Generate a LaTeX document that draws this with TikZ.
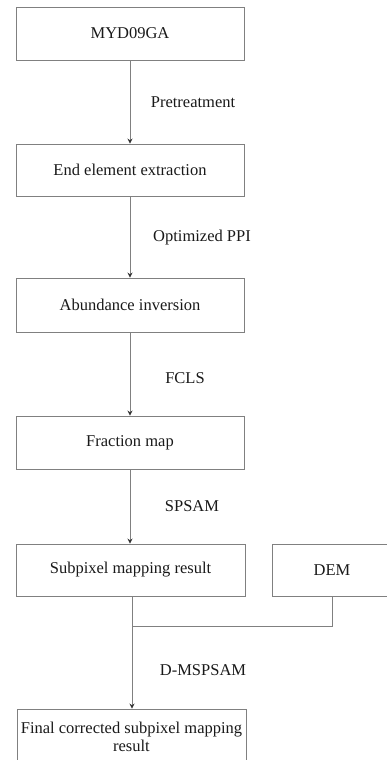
\documentclass[tikz,border=0pt]{standalone}
\usepackage{fontspec}
\setmainfont{Liberation Serif}
\usetikzlibrary{arrows.meta}
\begin{document}
\begin{tikzpicture}[x=1pt,y=-1pt,
  every node/.style={font=\fontsize{16.5}{19}\selectfont, text=black!90},
  box/.style={draw=black!50, line width=0.9pt, rectangle, inner sep=0pt, minimum width=228pt},
  lbl/.style={inner sep=0pt},
  conn/.style={draw=black!50, line width=0.9pt},
  arr/.style={conn, -{Stealth[length=5pt,width=5pt,color=black!80]}}]
\useasboundingbox (0,0) rectangle (387,760);
\node[box, minimum height=53pt] (b1) at (130,33.5) {MYD09GA};
\node[box, minimum height=52pt] (b2) at (130,170) {End element extraction};
\node[box, minimum height=54pt] (b3) at (130,305) {Abundance inversion};
\node[box, minimum height=53pt] (b4) at (130,442.5) {Fraction map};
\node[box, minimum height=52pt, minimum width=229pt] (b5) at (130.5,570) {Subpixel mapping result};
\node[box, minimum height=52pt, minimum width=120pt] (dem) at (332,570) {DEM};
\node[box, minimum height=56pt, minimum width=229pt, align=center] (b6) at (131.5,737) {Final corrected subpixel mapping\\[-1pt]result};
\node[lbl] (l1) at (193,102) {Pretreatment};
\node[lbl] (l2) at (202,238) {Optimized PPI};
\node[lbl] (l3) at (185,378) {FCLS};
\node[lbl] (l4) at (192,506) {SPSAM};
\node[lbl] (l5) at (203,670) {D-MSPSAM};
\coordinate (j1) at (132,626);
\coordinate (j2) at (332,626);
\draw[arr] (b1.south) -- (b2.north);
\draw[arr] (b2.south) -- (b3.north);
\draw[arr] (b3.south) -- (b4.north);
\draw[arr] (b4.south) -- (b5.north -| b4.south);
\draw[conn] (b5.south -| j1) -- (j1) -- (j2) -- (dem.south);
\draw[arr] (j1) -- (b6.north -| j1);
\end{tikzpicture}
\end{document}
